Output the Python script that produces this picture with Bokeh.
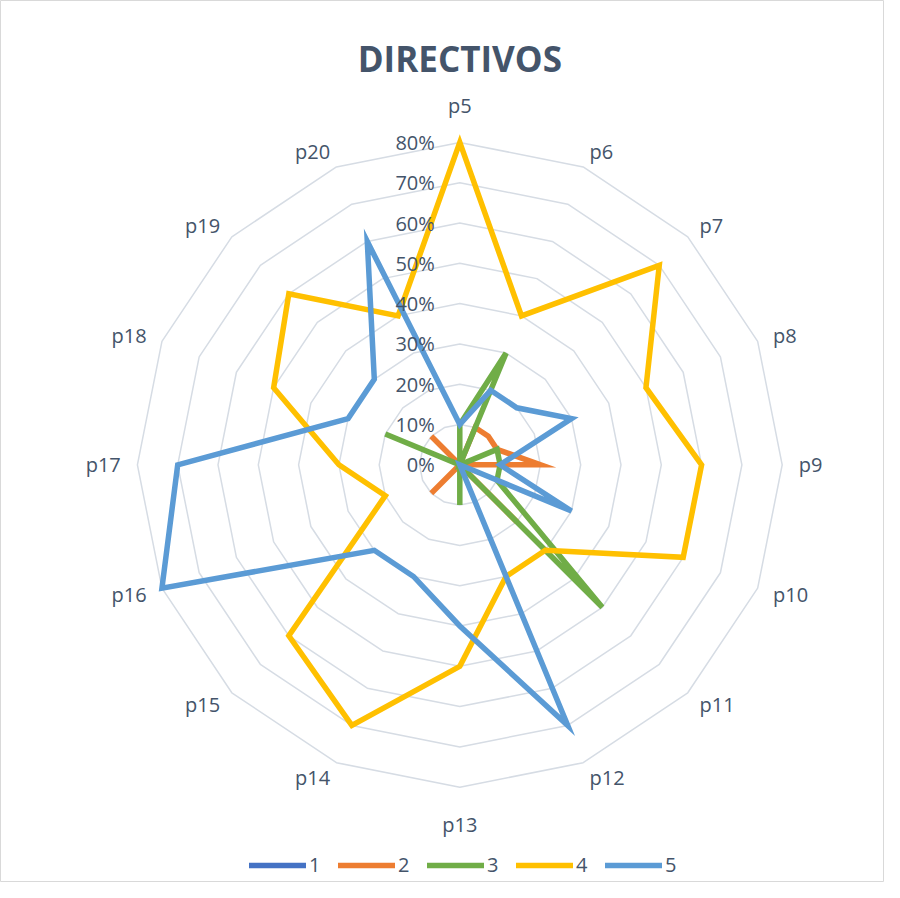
import numpy as np
from bokeh.plotting import figure
from bokeh.models import Range1d, Legend, LegendItem
from bokeh.core.properties import value
from bokeh.embed import file_html
from bokeh.resources import INLINE

# ---------------- data ----------------
categories = ["p5", "p6", "p7", "p8", "p9", "p10", "p11", "p12",
              "p13", "p14", "p15", "p16", "p17", "p18", "p19", "p20"]
series_names = ["1", "2", "3", "4", "5"]
s1 = [0, 0, 0, 0, 0, 0, 0, 0, 0, 0, 0, 0, 0, 0, 0, 0]
s2 = [0, 10, 10, 10, 20, 0, 20, 0, 0, 0, 10, 0, 0, 0, 10, 0]
s3 = [10, 30, 0, 10, 10, 10, 50, 0, 10, 0, 0, 0, 0, 20, 0, 0]
s4 = [80, 40, 70, 50, 60, 60, 30, 30, 50, 70, 60, 20, 30, 50, 60, 40]
s5 = [10, 20, 20, 30, 10, 30, 0, 70, 40, 30, 30, 80, 70, 30, 30, 60]
tick_values = [0, 10, 20, 30, 40, 50, 60, 70, 80]
tick_labels = ["0%", "10%", "20%", "30%", "40%", "50%", "60%", "70%", "80%"]
title_text = "DIRECTIVOS"

# ---------------- style ----------------
colors = ["#4472C4", "#ED7D31", "#70AD47", "#FFC000", "#5B9BD5"]
TEXT = "#44546A"
GRID = "#D6DCE4"
FONT = "Open Sans"
W, H = 884, 882
CX, CY = 459.3, 464.3      # pixel position of the centre
UNIT = 4.03                 # px per percent
N = len(categories)
ang = np.arange(N) * 2 * np.pi / N
S, C = np.sin(ang), np.cos(ang)


def polar(vals):
    v = np.asarray(vals, dtype=float) * UNIT
    return CX + v * S, CY - v * C


p = figure(width=W, height=H, x_range=Range1d(0, W), y_range=Range1d(H, 0),
           output_backend="svg", toolbar_location=None, min_border=0,
           x_axis_type=None, y_axis_type=None, outline_line_color="#D9D9D9",
           background_fill_color="white", border_fill_color="white")
p.grid.visible = False

# grid rings
for tv in tick_values[1:]:
    gx, gy = polar([tv] * N)
    p.patch(list(gx), list(gy), fill_color=None, line_color=GRID, line_width=1.5)

# series
for vals, col in zip([s1, s2, s3, s4, s5], colors):
    x, y = polar(vals)
    p.patch(list(x), list(y), fill_color=None, line_color=col, line_width=5.5,
            line_join="miter")

# tick labels
p.text(x=[CX - 25] * len(tick_values), y=[CY - t * UNIT for t in tick_values],
       text=tick_labels, text_font=value(FONT), text_font_size="20px",
       text_color=TEXT, text_align="right", text_baseline="middle")

# category labels
groups = {}
for i, cat in enumerate(categories):
    s, c = S[i], C[i]
    if abs(s) < 0.01:
        r = 346
        key = ("center", "bottom" if c > 0 else "top")
    else:
        r = 339
        key = ("left" if s > 0 else "right", "middle")
    groups.setdefault(key, ([], [], []))
    gx, gy, gt = groups[key]
    gx.append(CX + r * s)
    gy.append(CY - r * c)
    gt.append(cat)
for (al, bl), (gx, gy, gt) in groups.items():
    p.text(x=gx, y=gy, text=gt, text_font=value(FONT), text_font_size="20px",
           text_color=TEXT, text_align=al, text_baseline=bl)

# title
p.text(x=[CX], y=[58], text=[title_text], text_font=value(FONT),
       text_font_size="35px", text_font_style="bold", text_color=TEXT,
       text_align="center", text_baseline="middle")

# legend (proxy renderers placed outside the visible range)
items = []
for name, col in zip(series_names, colors):
    r = p.line(x=[-50, -40], y=[-50, -50], line_color=col, line_width=5.5,
               line_cap="round")
    items.append(LegendItem(label=name, renderers=[r]))
legend = Legend(items=items, orientation="horizontal", location=(249, 4),
                glyph_width=57, glyph_height=20, label_standoff=3, spacing=17,
                label_width=12, padding=0, margin=0, border_line_alpha=0,
                background_fill_alpha=0,
                label_text_font=FONT, label_text_font_size="20px",
                label_text_color=TEXT)
p.add_layout(legend)

open("out.html", "w").write(file_html(p, INLINE))
